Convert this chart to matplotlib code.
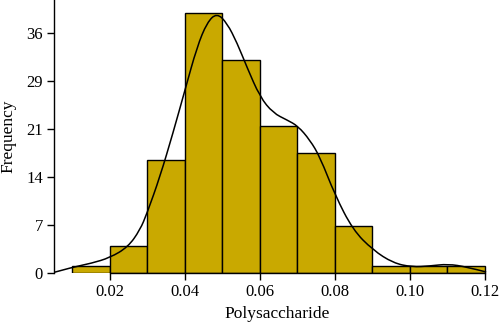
import numpy as np
import matplotlib.pyplot as plt
from matplotlib.path import Path
from matplotlib.patches import PathPatch

# histogram counts per 0.01-wide bin
bin_edges = [0.01, 0.02, 0.03, 0.04, 0.05, 0.06, 0.07, 0.08, 0.09, 0.10, 0.11, 0.12]
counts = [1, 4, 17, 39, 32, 22, 18, 7, 1, 1, 1]

# density curve scaled to frequency
curve_x = [0.0051, 0.0099, 0.0150, 0.0200, 0.0248, 0.0280, 0.0299, 0.0333, 0.0368,
           0.0400, 0.0432, 0.0459, 0.0485, 0.0512, 0.0539, 0.0565, 0.0600, 0.0635,
           0.0672, 0.0701, 0.0733, 0.0760, 0.0800, 0.0848, 0.0901, 0.0955, 0.1005,
           0.1053, 0.1101, 0.1152, 0.1203]
curve_y = [0.1, 0.85, 1.45, 2.3, 3.9, 6.45, 9.0, 14.4, 21.0,
           27.45, 33.9, 37.6, 39.0, 37.5, 34.5, 30.9, 26.4, 24.0,
           22.95, 22.05, 19.95, 17.4, 11.7, 6.45, 3.45, 1.5, 0.9,
           1.05, 1.35, 0.9, 0.15]

ytick_pos = np.linspace(0, 36, 6)
ytick_labels = ['0', '7', '14', '21', '29', '36']
xtick_pos = [0.02, 0.04, 0.06, 0.08, 0.10, 0.12]
xtick_labels = ['0.02', '0.04', '0.06', '0.08', '0.10', '0.12']


def smooth_path(xs, ys):
    # quadratic bezier through midpoints, using the points as control points
    pts = np.column_stack([xs, ys])
    verts = [pts[0]]
    codes = [Path.MOVETO]
    for i in range(1, len(pts) - 1):
        mid = (pts[i] + pts[i + 1]) / 2
        if i == len(pts) - 2:
            mid = pts[i + 1]
        verts += [pts[i], mid]
        codes += [Path.CURVE3, Path.CURVE3]
    return Path(verts, codes)


plt.rcParams['font.family'] = ['Liberation Serif', 'DejaVu Serif']

fig = plt.figure(figsize=(5.0, 3.28), dpi=100)
ax = fig.add_axes([0.108, 0.1677, 0.892, 0.8323])

widths = np.diff(bin_edges)
ax.bar(bin_edges[:-1], counts, width=widths, align='edge',
       color='#C9A900', edgecolor='black', linewidth=1.0)
ax.add_patch(PathPatch(smooth_path(curve_x, curve_y), facecolor='none',
                       edgecolor='black', linewidth=1.1))

ax.set_xlim(0.00507, 0.124)
ax.set_ylim(0, 40.95)

ax.set_xticks(xtick_pos)
ax.set_xticklabels(xtick_labels)
ax.set_yticks(ytick_pos)
ax.set_yticklabels(ytick_labels)
ax.tick_params(axis='both', labelsize=12, length=5, width=1, direction='out', pad=3)

for side in ['top', 'right']:
    ax.spines[side].set_visible(False)
ax.spines['bottom'].set_bounds(0.02, 0.12)
ax.spines['left'].set_linewidth(1)
ax.spines['bottom'].set_linewidth(1)

ax.set_xlabel('Polysaccharide', fontsize=12.5, labelpad=4)
ax.set_ylabel('Frequency', fontsize=12.5, labelpad=7)

fig.savefig('out.png', dpi=100)
